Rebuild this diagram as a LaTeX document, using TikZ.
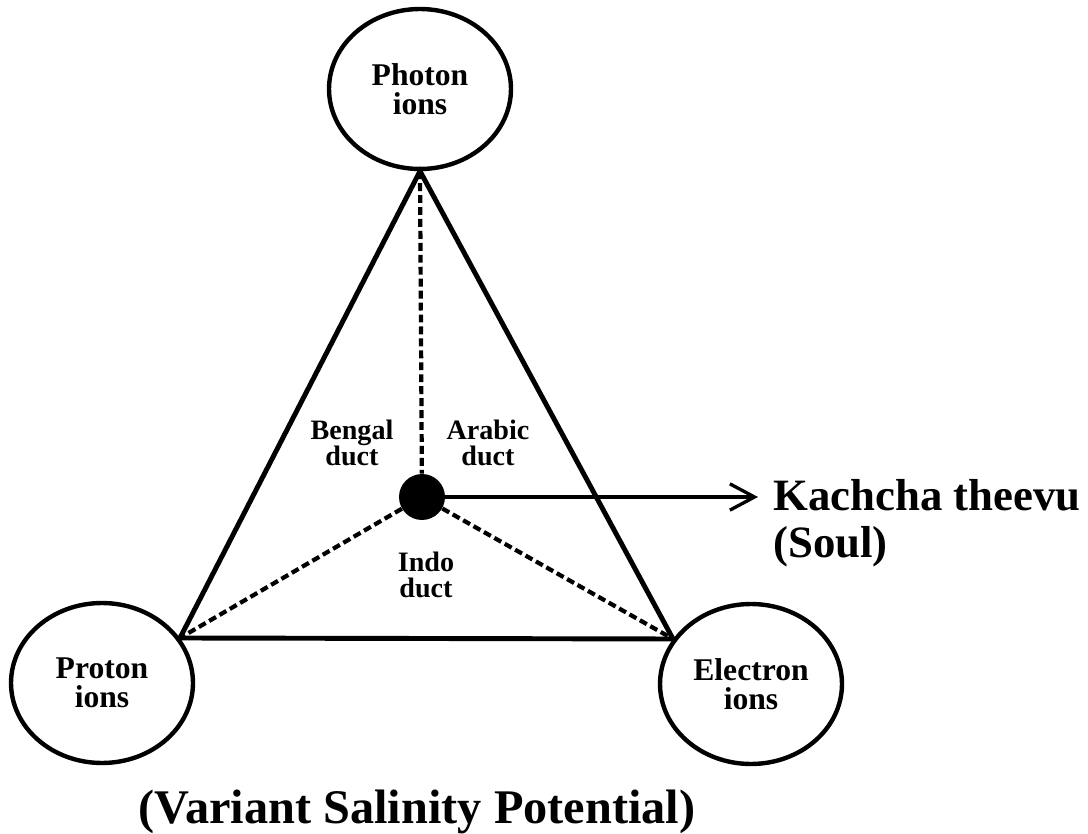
\documentclass[tikz,border=0pt]{standalone}
\usepackage{fontspec}
\setmainfont{Liberation Serif}
\usetikzlibrary{shapes, arrows.meta, positioning, calc}

\begin{document}
\begin{tikzpicture}[x=0.02cm, y=-0.02cm,
    ion/.style={draw, ellipse, line width=2.5pt, minimum width=3.64cm, minimum height=3.2cm, align=center, font=\fontsize{18}{16.5}\selectfont\bfseries},
    duct/.style={align=center, font=\fontsize{16}{15}\selectfont\bfseries},
    side/.style={line width=2.8pt},
    pipe/.style={line width=2.4pt, dash pattern=on 4.5pt off 2.3pt}]
      \useasboundingbox (0,0) rectangle (1088,834);

      \node[ion] (photon) at (420,89) {Photon\\ions};
      \node[ion] (proton) at (102,683) {Proton\\ions};
      \node[ion] (electron) at (751,684) {Electron\\ions};

      \node[circle, fill, inner sep=0pt, minimum size=0.92cm] (soul) at (422,497) {};

      \draw[side] (photon.south) -- (proton.30) -- (electron.150) -- cycle;

      \draw[pipe] (photon.south) -- (soul);
      \draw[pipe] (soul) -- (proton.30);
      \draw[pipe] (soul) -- (electron.150);

      \node[duct] (bengal) at (352,443) {Bengal\\duct};
      \node[duct] (arabic) at (488,443) {Arabic\\duct};
      \node[duct] (indo) at (426,575) {Indo\\duct};

      \node[anchor=west, align=left, inner sep=0pt, font=\fontsize{25.5}{26.5}\selectfont\bfseries] (kachcha) at (773,523) {Kachcha theevu\\(Soul)};
      \draw[line width=1.9pt, -{Straight Barb[length=14pt, width=15pt]}, shorten >=0.3cm] (soul) -- (soul -| kachcha.west);

      \node[font=\fontsize{27.5}{27.5}\selectfont\bfseries] (salinity) at (417,812) {(Variant Salinity Potential)};

    \end{tikzpicture}
\end{document}
